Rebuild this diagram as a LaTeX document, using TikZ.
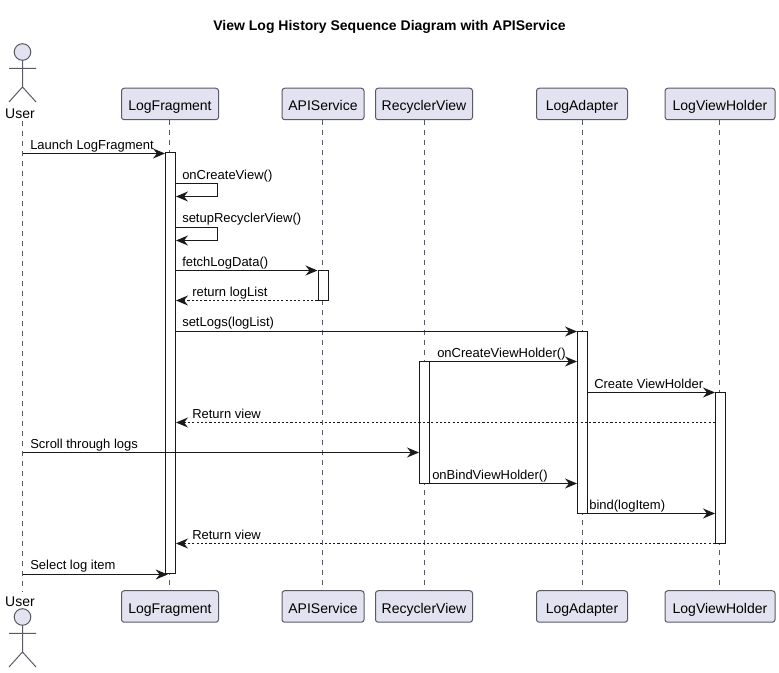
\documentclass[tikz,border=0pt]{standalone}
\usepackage{fontspec}
\setmainfont{Liberation Sans}
\usepackage{xcolor}
\usetikzlibrary{arrows.meta}

\definecolor{partfill}{HTML}{E2E2F0}
\definecolor{partline}{HTML}{5A5A66}
\def\px{0.75pt}

\tikzset{
    partbox/.style={draw=partline, fill=partfill, line width=0.75pt, rounded corners=2pt, minimum height=31.5*\px, inner sep=0pt, text height=9.8pt, text depth=0pt, font=\fontsize{10.5pt}{12pt}\selectfont},
    lifeline/.style={draw=partline, line width=0.75pt, dash pattern=on 3.75pt off 3.75pt},
    bar/.style={draw=black!90, fill=white, line width=0.75pt, minimum width=10*\px, inner sep=0pt},
    msg/.style={draw=black!90, line width=0.75pt, -{Stealth[length=9pt, width=7.5pt, inset=3pt]}},
    reply/.style={msg, dash pattern=on 1.6pt off 1.6pt},
    msglabel/.style={anchor=base west, inner sep=0pt, font=\fontsize{9.75pt}{11pt}\selectfont},
    actorlabel/.style={anchor=base, inner sep=0pt, font=\fontsize{10.5pt}{12pt}\selectfont},
    actor/.pic={
        \draw[partline, fill=partfill, line width=0.75pt] (0, 0) circle (8.3);
        \draw[partline, line width=0.75pt] (0, -8.3) -- (0, -35) (-13.5, -16.3) -- (13.5, -16.3) (-13.5, -50) -- (0, -35) -- (13.5, -50);
    }
}

\begin{document}
\begin{tikzpicture}[x=\px, y=\px]
    \useasboundingbox (0, 0) rectangle (779, -673);

    \node[anchor=base, inner sep=0pt, font=\fontsize{10.5pt}{12pt}\selectfont\bfseries] (title) at (389.5, -31) {View Log History Sequence Diagram with APIService};

    % participants, top and bottom
    \pic at (22.5, -52) {actor};
    \node[actorlabel] (userTop) at (20, -119) {User};
    \node[partbox, minimum width=97*\px] (logTop) at (170, -104) {LogFragment};
    \node[partbox, minimum width=82*\px] (apiTop) at (323, -104) {APIService};
    \node[partbox, minimum width=97*\px] (recTop) at (424, -104) {RecyclerView};
    \node[partbox, minimum width=91*\px] (adpTop) at (582, -104) {LogAdapter};
    \node[partbox, minimum width=110*\px] (vhTop) at (720, -104) {LogViewHolder};

    \pic at (22.5, -617) {actor};
    \node[actorlabel] (userBot) at (20, -607) {User};
    \node[partbox, minimum width=97*\px] (logBot) at (170, -606.5) {LogFragment};
    \node[partbox, minimum width=82*\px] (apiBot) at (323, -606.5) {APIService};
    \node[partbox, minimum width=97*\px] (recBot) at (424, -606.5) {RecyclerView};
    \node[partbox, minimum width=91*\px] (adpBot) at (582, -606.5) {LogAdapter};
    \node[partbox, minimum width=110*\px] (vhBot) at (720, -606.5) {LogViewHolder};

    % lifelines
    \coordinate (userA) at (22.5, -121);
    \coordinate (userB) at (22.5, -592);
    \draw[lifeline] (userA) -- (userB);
    \draw[lifeline] (169.5, -120) coordinate (logA) -- (169.5, -591) coordinate (logB);
    \draw[lifeline] (322, -120) coordinate (apiA) -- (322, -591) coordinate (apiB);
    \draw[lifeline] (424.3, -120) coordinate (recA) -- (424.3, -591) coordinate (recB);
    \draw[lifeline] (582.3, -120) coordinate (adpA) -- (582.3, -591) coordinate (adpB);
    \draw[lifeline] (719.3, -120) coordinate (vhA) -- (719.3, -591) coordinate (vhB);

    % activation bars
    \node[bar, minimum height=421*\px] (logBar) at (170.5, -363.5) {};
    \node[bar, minimum height=30*\px] (apiBar) at (323, -285.5) {};
    \node[bar, minimum height=122*\px] (recBar) at (424.5, -422.5) {};
    \node[bar, minimum height=182*\px] (adpBar) at (582.5, -422.5) {};
    \node[bar, minimum height=151*\px] (vhBar) at (720.5, -468) {};

    % message rows
    \coordinate (r1) at (0, -153.5);
    \coordinate (r2) at (0, -183.5);
    \coordinate (r2b) at (0, -196.5);
    \coordinate (r3) at (0, -227.5);
    \coordinate (r3b) at (0, -240.5);
    \coordinate (r4) at (0, -270.5);
    \coordinate (r5) at (0, -300.5);
    \coordinate (r6) at (0, -331.5);
    \coordinate (r7) at (0, -361.5);
    \coordinate (r8) at (0, -392.5);
    \coordinate (r9) at (0, -422.5);
    \coordinate (r10) at (0, -452.5);
    \coordinate (r11) at (0, -483.5);
    \coordinate (r12) at (0, -513.5);
    \coordinate (r13) at (0, -543.5);
    \coordinate (r14) at (0, -574.5);
    \coordinate (selfA) at (217.5, 0);

    % messages
    \draw[msg] (userA |- r1) -- (logBar.west |- r1);
    \draw[msg] (logBar.east |- r2) -- (selfA |- r2) -- (selfA |- r2b) -- (logBar.east |- r2b);
    \draw[msg] (logBar.east |- r3) -- (selfA |- r3) -- (selfA |- r3b) -- (logBar.east |- r3b);
    \draw[msg] (logBar.east |- r4) -- (apiBar.west |- r4);
    \draw[reply] (apiBar.west |- r5) -- (logBar.east |- r5);
    \draw[msg] (logBar.east |- r6) -- (adpBar.west |- r6);
    \draw[msg] (recBar.east |- r7) -- (adpBar.west |- r7);
    \draw[msg] (adpBar.east |- r8) -- (vhBar.west |- r8);
    \draw[reply] (vhBar.west |- r9) -- (logBar.east |- r9);
    \draw[msg] (userA |- r10) -- (recBar.west |- r10);
    \draw[msg] (recBar.east |- r11) -- (adpBar.west |- r11);
    \draw[msg] (adpBar.east |- r12) -- (vhBar.west |- r12);
    \draw[reply] (vhBar.west |- r13) -- (logBar.east |- r13);
    \draw[msg] (userA |- r14) -- ([xshift=2pt]logBar.west |- r14);

    % message labels
    \node[msglabel] (m1) at (30, -150) {Launch LogFragment};
    \node[msglabel] (m2) at (182, -180) {onCreateView()};
    \node[msglabel] (m3) at (182, -223) {setupRecyclerView()};
    \node[msglabel] (m4) at (182, -267) {fetchLogData()};
    \node[msglabel] (m5) at (192, -297) {return logList};
    \node[msglabel] (m6) at (182, -327) {setLogs(logList)};
    \node[msglabel] (m7) at (437, -358) {onCreateViewHolder()};
    \node[msglabel] (m8) at (594, -389) {Create ViewHolder};
    \node[msglabel] (m9) at (192, -419) {Return view};
    \node[msglabel] (m10) at (30, -449) {Scroll through logs};
    \node[msglabel] (m11) at (432, -480) {onBindViewHolder()};
    \node[msglabel] (m12) at (589, -510) {bind(logItem)};
    \node[msglabel] (m13) at (192, -540) {Return view};
    \node[msglabel] (m14) at (30, -570) {Select log item};
\end{tikzpicture}
\end{document}
